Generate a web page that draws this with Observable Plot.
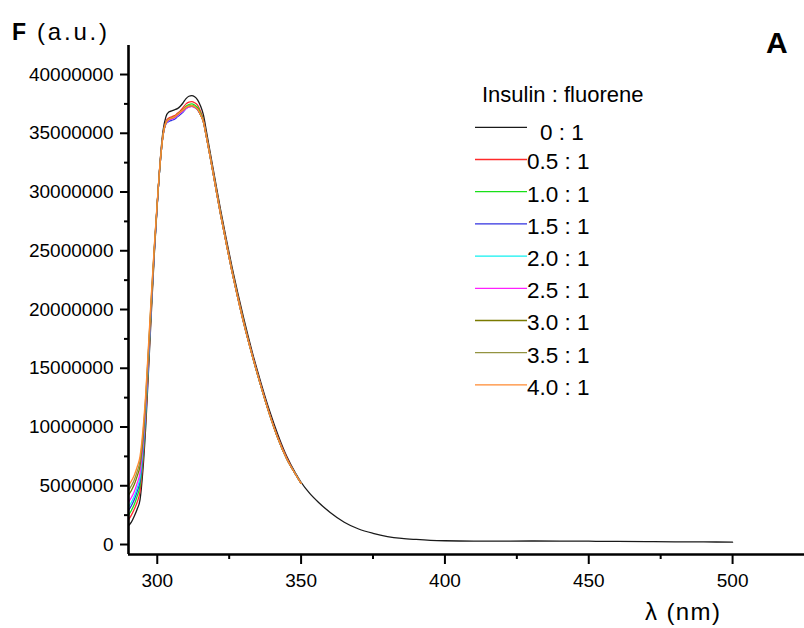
<!DOCTYPE html>
<html><head><meta charset="utf-8">
<script src="https://cdn.jsdelivr.net/npm/d3@7"></script>
<script src="https://cdn.jsdelivr.net/npm/@observablehq/plot@0.6"></script>
<style>
body{margin:0;background:#fff;}
#chart{position:relative;width:804px;height:628px;}
</style>
</head><body><div id="chart"></div>
<script>
// wavelengths (nm)
const lambdaShort = [290,291,292,293,294,295,296,297,298,299,300,301,302,303,304,305,306,307,308,309,310,311,312,313,314,315,316,317,318,320,322,324,326,328,330,333,336,339,342,345,348,350];
const lambdaTail = [353,356,360,365,370,375,380,385,390,395,400,410,420,430,440,450,460,470,480,490,500];

// fluorescence intensity, in millions (a.u.)
const f_0_1 = [1.6,1.9,2.4,3.0,3.8,6.3,10.1,15.0,20.0,24.8, 28.9,32.6,35.2,36.4,36.8,36.9,37.0,37.1,37.3,37.6, 37.95,38.15,38.2,38.1,37.85,37.35,36.6,35.3,33.9, 31.2,28.5,26.0,23.6,21.4,19.3, 16.4,13.8,11.4,9.3,7.5,6.1,5.3,
  4.35,3.6,2.75,1.9,1.32,0.95,0.68,0.52,0.43,0.36,0.32,0.29,0.29,0.3,0.29,0.28,0.26,0.25,0.23,0.22,0.2];
const f_05_1 = [2.1,2.5,3.0,3.6,4.5,7.0,10.7,15.5,20.4,25.0, 29.0,32.6,35.0,36.0,36.3,36.4,36.5,36.7,36.9,37.2, 37.5,37.65,37.7,37.6,37.4,36.9,36.2,35.0,33.7, 31.0,28.3,25.8,23.4,21.2,19.1, 16.2,13.6,11.2,9.1,7.4,6.0,5.2];
const f_10_1 = [2.5,2.9,3.4,4.1,5.0,7.4,11.0,15.8,20.6,25.1, 29.0,32.5,34.9,35.9,36.2,36.3,36.4,36.6,36.8,37.0, 37.3,37.45,37.5,37.4,37.2,36.75,36.1,34.9,33.6, 30.9,28.2,25.7,23.3,21.1,19.0, 16.1,13.5,11.1,9.0,7.3,6.0,5.2];
const f_15_1 = [2.9,3.3,3.8,4.5,5.4,7.8,11.3,16.0,20.7,25.1, 29.0,32.4,34.8,35.8,36.0,36.1,36.2,36.4,36.6,36.8, 37.1,37.25,37.3,37.2,37.0,36.6,36.0,34.8,33.5, 30.8,28.1,25.6,23.2,21.0,18.9, 16.1,13.5,11.1,9.0,7.3,6.0,5.2];
const f_20_1 = [3.2,3.6,4.1,4.8,5.7,8.1,11.6,16.2,20.8,25.2, 29.0,32.4,34.8,35.8,36.1,36.2,36.3,36.5,36.7,36.9, 37.15,37.3,37.35,37.25,37.05,36.6,36.0,34.8,33.5, 30.8,28.1,25.6,23.2,21.0,18.9, 16.1,13.5,11.1,9.0,7.3,6.0,5.2];
const f_25_1 = [3.6,4.0,4.5,5.2,6.1,8.4,11.9,16.4,20.9,25.2, 29.0,32.4,34.8,35.8,36.1,36.2,36.3,36.5,36.7,36.9, 37.1,37.25,37.3,37.2,37.0,36.6,36.0,34.8,33.5, 30.8,28.1,25.6,23.2,21.0,18.9, 16.1,13.5,11.1,9.0,7.3,6.0,5.2];
const f_30_1 = [4.2,4.6,5.1,5.8,6.7,8.9,12.3,16.7,21.1,25.3, 29.1,32.4,34.8,35.9,36.2,36.3,36.4,36.6,36.8,37.0, 37.2,37.3,37.35,37.25,37.05,36.6,36.0,34.8,33.5, 30.8,28.1,25.6,23.2,21.0,18.9, 16.1,13.5,11.1,9.0,7.3,6.0,5.2];
const f_35_1 = [4.6,5.0,5.5,6.2,7.1,9.3,12.6,16.9,21.3,25.4, 29.1,32.4,34.8,35.9,36.2,36.3,36.4,36.6,36.8,37.0, 37.2,37.3,37.35,37.25,37.05,36.6,36.0,34.8,33.5, 30.8,28.1,25.6,23.2,21.0,18.9, 16.1,13.5,11.1,9.0,7.3,6.0,5.2];
const f_40_1 = [5.0,5.4,5.9,6.6,7.5,9.7,12.9,17.2,21.5,25.5, 29.2,32.5,34.8,35.9,36.2,36.3,36.4,36.6,36.8,37.0, 37.2,37.3,37.35,37.25,37.05,36.6,36.0,34.8,33.5, 30.8,28.1,25.6,23.2,21.0,18.9, 16.1,13.5,11.1,9.0,7.3,6.0,5.2];

const seriesLabels = ["0 : 1","0.5 : 1","1.0 : 1","1.5 : 1","2.0 : 1","2.5 : 1","3.0 : 1","3.5 : 1","4.0 : 1"];
const seriesColors = ["#1a1a1a","#ff2a2a","#18e018","#3030e0","#10f0f0","#ff20ff","#7a7a00","#939340","#ff8a30"];
const seriesValues = [f_0_1,f_05_1,f_10_1,f_15_1,f_20_1,f_25_1,f_30_1,f_35_1,f_40_1];

const yMajorTicks = [0,5000000,10000000,15000000,20000000,25000000,30000000,35000000,40000000];
const yMinorTicks = [2500000,7500000,12500000,17500000,22500000,27500000,32500000,37500000];
const xMajorTicks = [300,350,400,450,500];
const xMinorTicks = [325,375,425,475];
const xDomain = [290, 525];
const yDomain = [-850000, 42470000];

const lambdaAll = lambdaShort.concat(lambdaTail);
const rows = [];
seriesLabels.forEach((name, i) => {
  seriesValues[i].forEach((v, j) => rows.push({lambda: lambdaAll[j], F: v * 1e6, series: name}));
});

const font = "'Liberation Sans', Arial, Helvetica, sans-serif";

const svg = Plot.plot({
  width: 804, height: 628,
  marginLeft: 128, marginRight: 0, marginTop: 45, marginBottom: 74,
  x: {domain: xDomain},
  y: {domain: yDomain},
  color: {domain: seriesLabels, range: seriesColors},
  style: {fontFamily: font, fontSize: "19px", color: "#000", background: "#fff", overflow: "visible"},
  marks: [
    Plot.axisY({ticks: yMajorTicks, tickSize: 8, tickPadding: 7, tickFormat: d => String(d), strokeWidth: 2, fontSize: 19, label: null}),
    Plot.axisY({ticks: yMinorTicks, tickSize: 4, tickFormat: () => "", strokeWidth: 2, label: null}),
    Plot.axisX({ticks: xMajorTicks, tickSize: 10, tickPadding: 9, tickFormat: d => String(d), strokeWidth: 2, fontSize: 19, label: null}),
    Plot.axisX({ticks: xMinorTicks, tickSize: 5, tickFormat: () => "", strokeWidth: 2, label: null}),
    Plot.line(rows, {x: "lambda", y: "F", z: "series", stroke: "series", curve: "monotone-x", strokeWidth: 1.3, clip: true}),
    Plot.ruleX([xDomain[0]], {strokeWidth: 2.6, stroke: "#000"}),
    Plot.ruleY([yDomain[0]], {strokeWidth: 2.6, stroke: "#000"})
  ]
});
document.getElementById("chart").appendChild(svg);

// annotations
const s = d3.select(svg);
const ann = s.append("g").attr("font-family", font).attr("fill", "#000").attr("text-anchor", "start");
const t1 = ann.append("text").attr("x", 12).attr("y", 40).attr("text-anchor", "start");
t1.append("tspan").attr("font-weight", "bold").attr("font-size", 23).text("F");
t1.append("tspan").attr("x", 37).attr("font-size", 24).attr("textLength", 70).attr("lengthAdjust", "spacing").text("(a.u.)");

ann.append("text").attr("x", 766).attr("y", 53).attr("font-weight", "bold")
  .attr("font-size", 30).attr("text-anchor", "start").text("A");

ann.append("text").attr("x", 645).attr("y", 620).attr("font-size", 24).attr("text-anchor", "start")
  .attr("textLength", 75).attr("lengthAdjust", "spacing").text("λ (nm)");

// legend
const lg = ann.append("g");
lg.append("text").attr("x", 482).attr("y", 101.5).attr("font-size", 22).attr("text-anchor", "start").text("Insulin : fluorene");
seriesLabels.forEach((name, i) => {
  const y = 127.3 + 32.2 * i;
  lg.append("line").attr("x1", 475).attr("x2", 527).attr("y1", y).attr("y2", y)
    .attr("stroke", seriesColors[i]).attr("stroke-width", 1.3);
  lg.append("text").attr("x", i === 0 ? 540 : 527).attr("y", i === 0 ? y + 12.5 : y + 9.8)
    .attr("font-size", 22.5).attr("text-anchor", "start").text(name);
});
</script>
</body></html>
